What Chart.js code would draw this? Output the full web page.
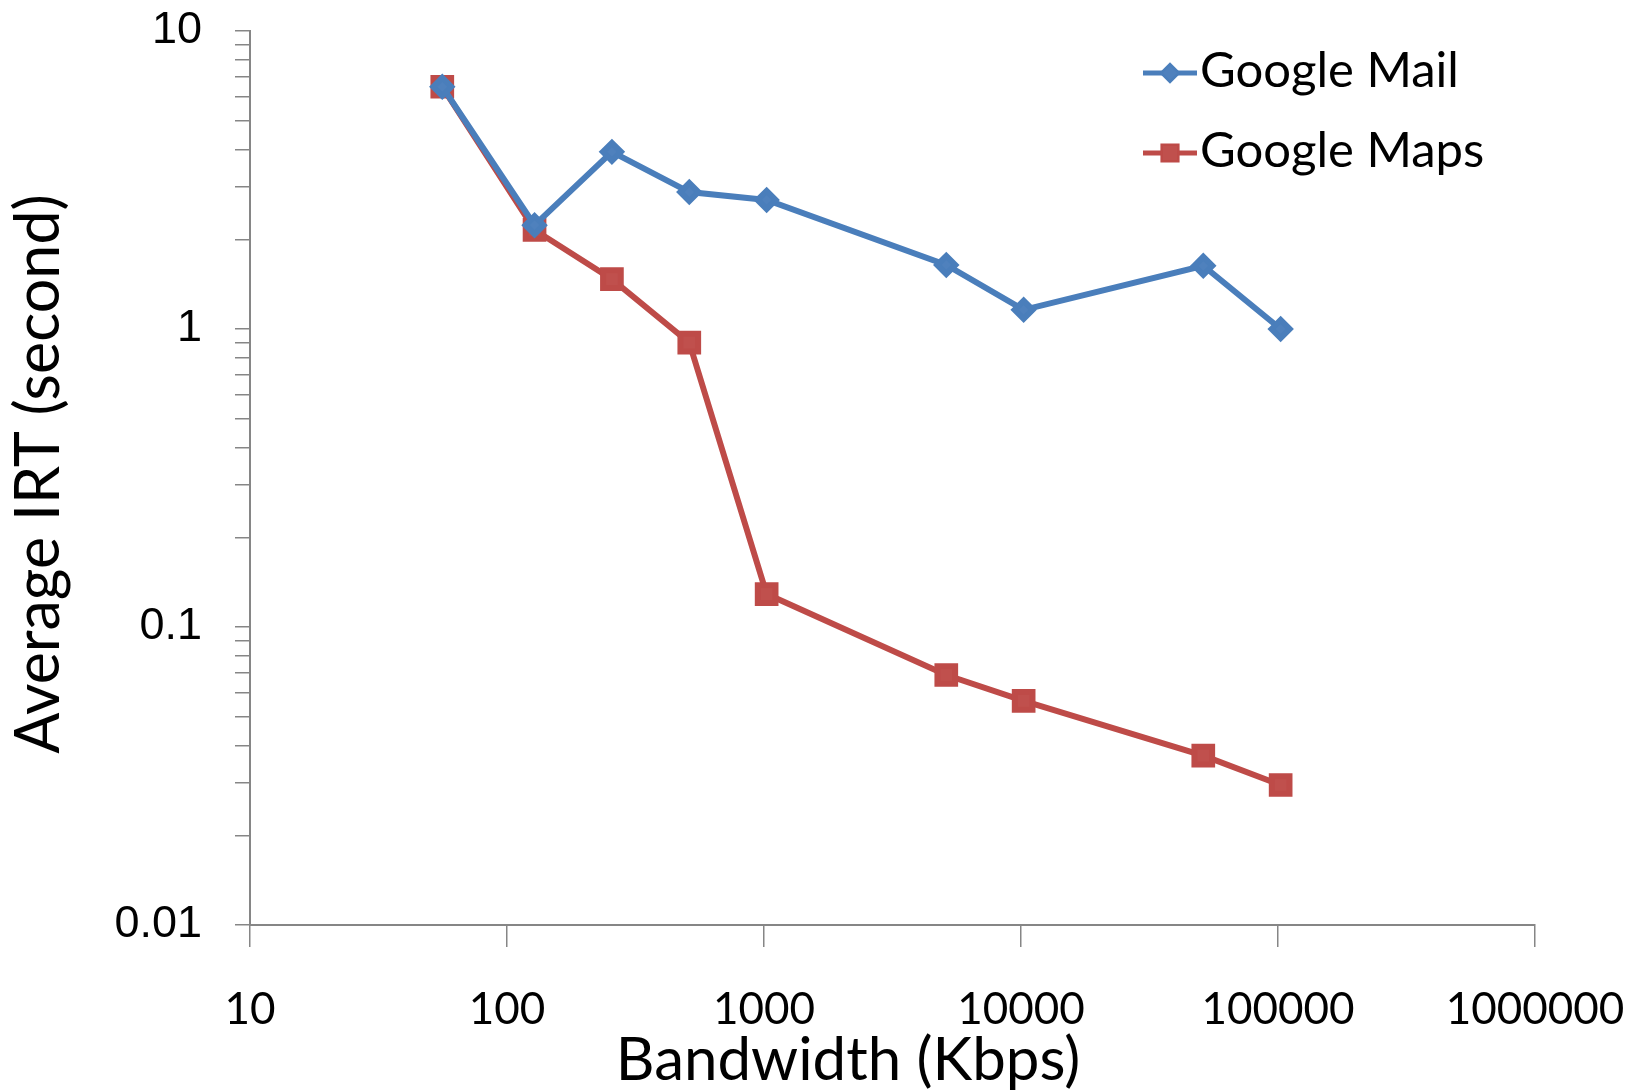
<!DOCTYPE html>
<html>
<head>
<meta charset="utf-8">
<script src="https://cdn.jsdelivr.net/npm/chart.js@4/dist/chart.umd.min.js"></script>
<style>
  body { margin: 0; background: #fff; }
  canvas { display: block; }
</style>
</head>
<body>
<canvas id="irt-chart" width="1645" height="1092"></canvas>
<script>
// bandwidth in Kbps, IRT in seconds
const bandwidth = [56, 128, 256, 512, 1024, 5120, 10240, 51200, 102400];
const mailIrt = [6.5, 2.23, 3.93, 2.88, 2.71, 1.64, 1.16, 1.63, 1.0];
const mapsIrt = [6.5, 2.15, 1.47, 0.90, 0.129, 0.069, 0.0565, 0.037, 0.0295];

const seriesNames = ['Google Mail', 'Google Maps'];
const xTickValues = [10, 100, 1000, 10000, 100000, 1000000];
const yTickValues = [0.01, 0.1, 1, 10];
const xTitle = 'Bandwidth (Kbps)';
const yTitle = 'Average IRT (second)';

const axisGray = '#868686';

// minor ticks on the y axis: 2..9 inside every decade
function yAllTicks() {
    const out = [];
    yTickValues.forEach((v, i) => {
        out.push({ value: v });
        if (i < yTickValues.length - 1) {
            for (let m = 2; m <= 9; m++) out.push({ value: v * m });
        }
    });
    return out;
}

function isMajor(list, v) {
    return list.some(t => Math.abs(t - v) / t < 1e-6);
}

// axis titles and the Excel style legend (line + marker)
const decorPlugin = {
    id: 'decor',
    afterDraw(chart) {
        const ctx = chart.ctx;
        ctx.save();
        ctx.fillStyle = '#000';
        ctx.font = '60px Lato';
        ctx.textAlign = 'center';
        ctx.textBaseline = 'alphabetic';
        ctx.fillText(xTitle, 848, 1080);

        ctx.translate(59, 474);
        ctx.rotate(-Math.PI / 2);
        ctx.font = '61px Lato';
        ctx.fillText(yTitle, 0, 0);
        ctx.restore();

        const rows = [73, 153];
        chart.data.datasets.forEach((ds, i) => {
            const y = rows[i];
            ctx.save();
            ctx.strokeStyle = ds.borderColor;
            ctx.lineWidth = 5;
            ctx.beginPath();
            ctx.moveTo(1143, y);
            ctx.lineTo(1197, y);
            ctx.stroke();
            Chart.helpers.drawPoint(ctx, {
                pointStyle: ds.pointStyle,
                radius: ds.pointRadius * 0.8,
                borderWidth: 1
            }, 1170, y);
            ctx.fillStyle = ds.pointBackgroundColor;
            ctx.strokeStyle = ds.pointBorderColor;
            ctx.fill();
            ctx.restore();

            ctx.save();
            ctx.fillStyle = '#000';
            ctx.font = '49px Lato';
            ctx.textAlign = 'left';
            ctx.textBaseline = 'middle';
            ctx.fillText(ds.label, 1200, y - 2);
            ctx.restore();
        });
    }
};

const ctx = document.getElementById('irt-chart').getContext('2d');

const chartData = {
    datasets: [
        {
            label: seriesNames[0],
            data: bandwidth.map((b, i) => ({ x: b, y: mailIrt[i] })),
            borderColor: '#4A7EBB',
            backgroundColor: '#4F81BD',
            pointBackgroundColor: '#4F81BD',
            pointBorderColor: '#4A7EBB',
            pointStyle: 'rectRot',
            pointRadius: 9,
            borderWidth: 6,
            tension: 0
        },
        {
            label: seriesNames[1],
            data: bandwidth.map((b, i) => ({ x: b, y: mapsIrt[i] })),
            borderColor: '#BE4B48',
            backgroundColor: '#C0504D',
            pointBackgroundColor: '#C0504D',
            pointBorderColor: '#BE4B48',
            pointStyle: 'rect',
            pointRadius: 12.5,
            borderWidth: 6,
            tension: 0
        }
    ]
};

const myChart = new Chart(ctx, {
    type: 'line',
    data: chartData,
    options: {
        responsive: false,
        animation: false,
        layout: { padding: { top: 31, right: 110, left: 0, bottom: 0 } },
        plugins: {
            legend: { display: false },
            tooltip: { enabled: false }
        },
        scales: {
            x: {
                type: 'logarithmic',
                min: 10,
                max: 1000000,
                afterBuildTicks: scale => { scale.ticks = xTickValues.map(v => ({ value: v })); },
                afterFit: scale => {
                    scale.height = 167;
                    scale.paddingLeft = 0;
                    scale.paddingRight = 0;
                },
                border: { color: axisGray, width: 2 },
                grid: { drawOnChartArea: false, drawTicks: true, tickLength: 22, color: axisGray, lineWidth: 1.5 },
                ticks: {
                    autoSkip: false,
                    maxRotation: 0,
                    padding: 36,
                    color: '#000',
                    font: { family: 'Lato', size: 44 },
                    callback: value => String(value)
                }
            },
            y: {
                type: 'logarithmic',
                min: 0.01,
                max: 10,
                afterBuildTicks: scale => { scale.ticks = yAllTicks(); },
                afterFit: scale => {
                    scale.width = 250;
                    scale.paddingTop = 0;
                    scale.paddingBottom = 0;
                },
                border: { color: axisGray, width: 2 },
                grid: { drawOnChartArea: false, drawTicks: true, tickLength: 15, color: axisGray, lineWidth: 1.5 },
                ticks: {
                    autoSkip: false,
                    padding: 33,
                    color: '#000',
                    font: { family: 'Liberation Sans', size: 45 },
                    callback: value => isMajor(yTickValues, value) ? String(value) : ''
                }
            }
        }
    },
    plugins: [decorPlugin]
});
</script>
</body>
</html>
